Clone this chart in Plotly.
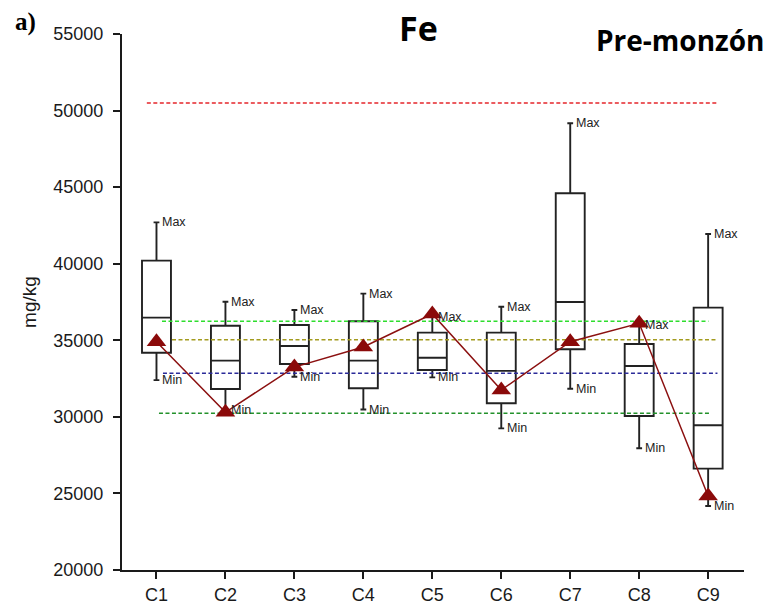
import plotly.graph_objects as go

# Sampling sites
sites = ["C1", "C2", "C3", "C4", "C5", "C6", "C7", "C8", "C9"]

# Box statistics for Fe (mg/kg), pre-monsoon
fe_min = [32400, 30450, 32620, 30480, 32580, 29250, 31840, 27950, 24180]
fe_q1 = [34190, 31820, 33450, 31870, 33060, 30890, 34410, 30060, 26620]
fe_median = [36480, 33670, 34630, 33670, 33860, 33000, 37500, 33320, 29450]
fe_q3 = [40200, 35950, 36000, 36240, 35500, 35500, 44600, 34760, 37130]
fe_max = [42700, 37520, 36980, 38050, 36550, 37190, 49170, 36000, 41940]

# Mean concentration per site
fe_mean = [34910, 30300, 33250, 34560, 36720, 31750, 34910, 36110, 24830]

# Reference levels (mg/kg)
ref_levels = [50500, 36250, 35030, 32850, 30230]

# Styling for the reference lines: colour and horizontal extent (site index units)
ref_styles = [
    dict(color="#E5262B", x0=-0.14, x1=8.135),
    dict(color="#2EDD2E", x0=0.08, x1=8.004),
    dict(color="#A39B1E", x0=0.225, x1=8.135),
    dict(color="#2B2B99", x0=0.094, x1=8.135),
    dict(color="#23912B", x0=0.036, x1=8.033),
]

idx = list(range(len(sites)))

fig = go.Figure()

fig.add_trace(go.Box(
    x=idx,
    q1=fe_q1,
    median=fe_median,
    q3=fe_q3,
    lowerfence=fe_min,
    upperfence=fe_max,
    width=0.42,
    whiskerwidth=0.2,
    boxpoints=False,
    fillcolor="rgba(0,0,0,0)",
    line=dict(color="#222222", width=1.9),
    showlegend=False,
    hoverinfo="skip",
))

for level, st in zip(ref_levels, ref_styles):
    fig.add_trace(go.Scatter(
        x=[st["x0"], st["x1"]],
        y=[level, level],
        mode="lines",
        line=dict(color=st["color"], width=1.5, dash="4px,2.5px"),
        showlegend=False,
        hoverinfo="skip",
    ))

fig.add_trace(go.Scatter(
    x=idx,
    y=fe_mean,
    mode="lines+markers",
    line=dict(color="#8B1010", width=1.5),
    marker=dict(symbol="triangle-up", size=17, color="#8B0A0A"),
    showlegend=False,
    hoverinfo="skip",
))

label_font = dict(family="Liberation Sans, Arial, sans-serif", size=12.5, color="#222222")
annotations = []
for i in idx:
    annotations.append(dict(x=i, y=fe_max[i], text="Max", xref="x", yref="y",
                            xanchor="left", yanchor="middle", xshift=4,
                            showarrow=False, font=label_font))
    annotations.append(dict(x=i, y=fe_min[i], text="Min", xref="x", yref="y",
                            xanchor="left", yanchor="middle", xshift=4,
                            showarrow=False, font=label_font))

W, H = 771, 608
L, R, T, B = 122, 27, 34, 38
pw, ph = W - L - R, H - T - B


def px_to_paper(px, py):
    return (px - L) / pw, (H - B - py) / ph


header_texts = [
    ("<b>Fe</b>", (418, 28), dict(family="Open Sans, sans-serif", size=34, color="#000")),
    ("<b>Pre-monzón</b>", (680, 40), dict(family="Open Sans, sans-serif", size=28, color="#000")),
    ("<b>a)</b>", (25, 22), dict(family="Liberation Serif, Times New Roman, serif", size=25, color="#000")),
]
for text, (px, py), font in header_texts:
    ax, ay = px_to_paper(px, py)
    annotations.append(dict(text=text, x=ax, y=ay, xref="paper", yref="paper",
                            xanchor="center", yanchor="middle",
                            showarrow=False, font=font))

tick_font = dict(family="Liberation Sans, Arial, sans-serif", size=18, color="#1a1a1a")

fig.update_layout(
    width=W,
    height=H,
    margin=dict(l=L, r=R, t=T, b=B),
    paper_bgcolor="white",
    plot_bgcolor="white",
    annotations=annotations,
    xaxis=dict(
        range=[-0.5, 8.52],
        tickvals=idx,
        ticktext=sites,
        showgrid=False,
        zeroline=False,
        showline=True,
        linecolor="#1a1a1a",
        linewidth=2,
        ticks="outside",
        ticklen=7,
        tickwidth=1.5,
        tickcolor="#1a1a1a",
        tickfont=tick_font,
        automargin=False,
    ),
    yaxis=dict(
        range=[20000, 55000],
        tickvals=[20000, 25000, 30000, 35000, 40000, 45000, 50000, 55000],
        tickformat="d",
        showgrid=False,
        zeroline=False,
        showline=True,
        linecolor="#1a1a1a",
        linewidth=2,
        ticks="outside",
        ticklen=7,
        tickwidth=1.5,
        tickcolor="#1a1a1a",
        tickfont=tick_font,
        ticklabelstandoff=6,
        automargin=False,
        title=dict(text="mg/kg", font=dict(family="Liberation Sans, Arial, sans-serif", size=19, color="#1a1a1a"),
                   standoff=12),
    ),
)

fig.write_html("out.html")
